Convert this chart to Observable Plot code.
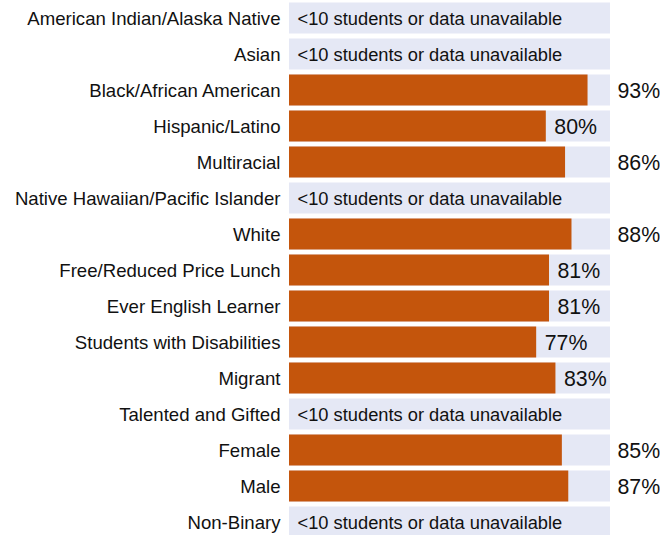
<!DOCTYPE html>
<html>
<head>
<meta charset="utf-8">
<script src="https://cdn.jsdelivr.net/npm/d3@7"></script>
<script src="https://cdn.jsdelivr.net/npm/@observablehq/plot@0.6"></script>
<style>
  html, body { margin: 0; padding: 0; background: #fff; }
</style>
</head>
<body>
<div id="chart"></div>
<script>
const categories = [
  "American Indian/Alaska Native",
  "Asian",
  "Black/African American",
  "Hispanic/Latino",
  "Multiracial",
  "Native Hawaiian/Pacific Islander",
  "White",
  "Free/Reduced Price Lunch",
  "Ever English Learner",
  "Students with Disabilities",
  "Migrant",
  "Talented and Gifted",
  "Female",
  "Male",
  "Non-Binary"
];
const values = [null, null, 93, 80, 86, null, 88, 81, 81, 77, 83, null, 85, 87, null];
const unavailableText = "<10 students or data unavailable";

const rows = categories.map((c, i) => ({category: c, value: values[i]}));
const available = rows.filter(d => d.value != null);
const missing = rows.filter(d => d.value == null);
const inside = available.filter(d => d.value < 85);
const outside = available.filter(d => d.value >= 85);

const FONT = "Liberation Sans, Arial, Helvetica, sans-serif";
const FS = 18.6;
const FSU = 18.3;
const FSV = 21.33;
const INK = "#111";

const chart = Plot.plot({
  width: 660,
  height: 535,
  marginLeft: 289,
  marginRight: 50,
  marginTop: 0,
  marginBottom: 0,
  style: {fontFamily: FONT, fontSize: FS + "px", color: INK, background: "#fff"},
  x: {domain: [0, 100], range: [289, 610], axis: null},
  y: {domain: categories, range: [0, 540], padding: 0, axis: null},
  marks: [
    Plot.barX(rows, {y: "category", x1: 0, x2: 100, fill: "#e5e8f5", insetTop: 2.5, insetBottom: 2.5}),
    Plot.barX(available, {y: "category", x1: 0, x2: "value", fill: "#c4550c", insetTop: 2.5, insetBottom: 2.5}),
    Plot.text(missing, {y: "category", x: 0, text: () => unavailableText, textAnchor: "start", dx: 8, dy: 1, fontSize: FSU, fill: INK}),
    Plot.text(inside, {y: "category", x: "value", text: d => d.value + "%", textAnchor: "start", dx: 8, dy: 1, fontSize: FSV, fill: INK}),
    Plot.text(outside, {y: "category", x: 100, text: d => d.value + "%", textAnchor: "start", dx: 7, dy: 1, fontSize: FSV, fill: INK}),
    Plot.axisY({domain: categories, tickSize: 0, tickPadding: 9, dy: 1, fontSize: FS, fill: INK, label: null})
  ]
});
document.getElementById("chart").appendChild(chart);
</script>
</body>
</html>
